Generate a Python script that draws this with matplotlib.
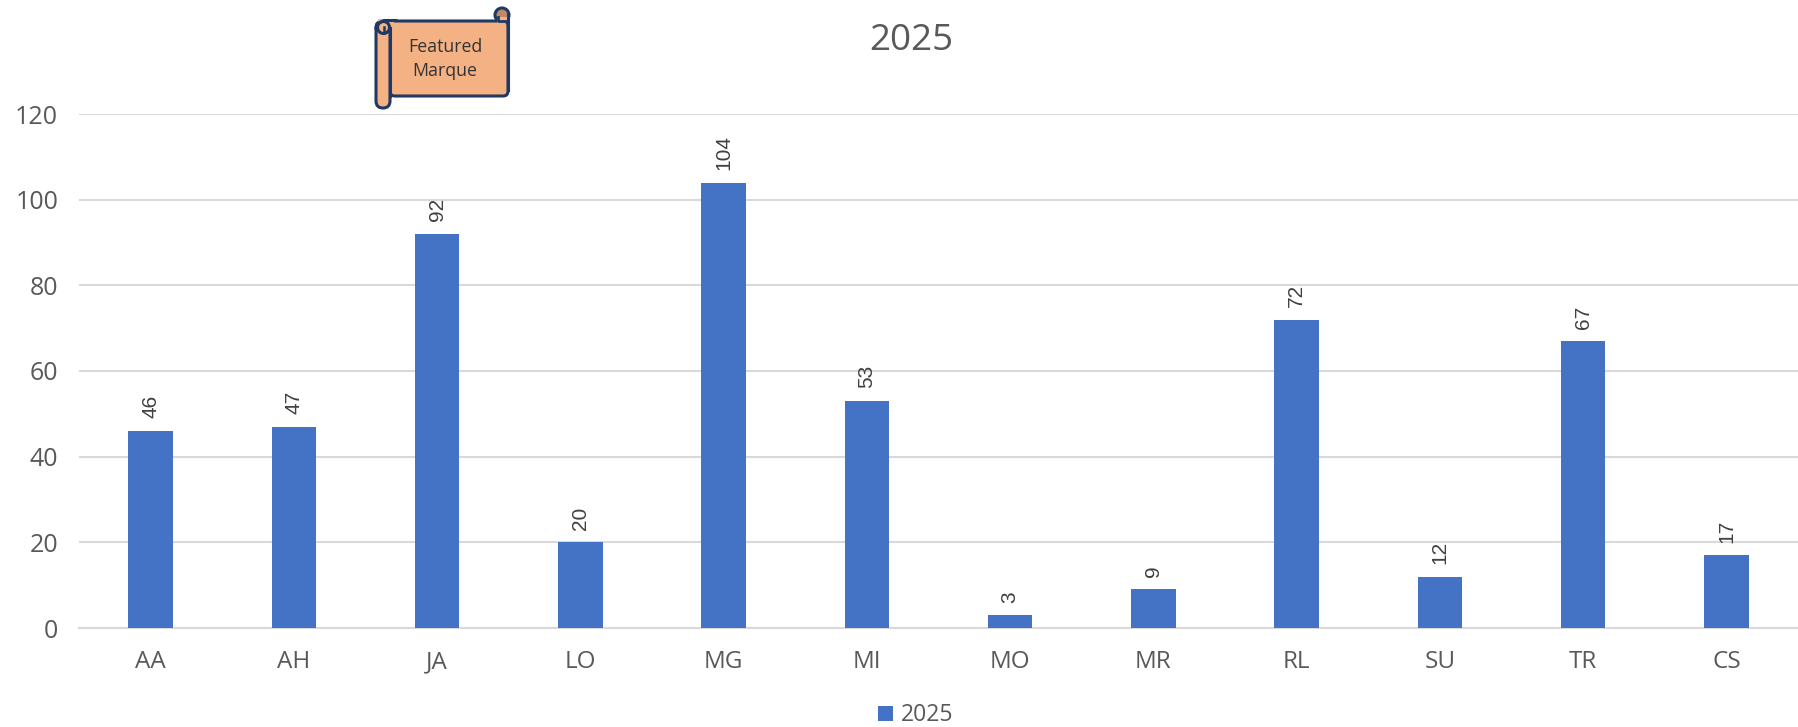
import matplotlib
matplotlib.use("Agg")
import matplotlib.pyplot as plt
from matplotlib.patches import FancyBboxPatch, Rectangle, Circle
from matplotlib.transforms import Affine2D

categories = ["AA", "AH", "JA", "LO", "MG", "MI", "MO", "MR", "RL", "SU", "TR", "CS"]
values_2025 = [46, 47, 92, 20, 104, 53, 3, 9, 72, 12, 67, 17]
y_ticks = [0, 20, 40, 60, 80, 100, 120]
series_name = "2025"
chart_title = "2025"
note_lines = ["Featured", "Marque"]

W, H = 1798, 727
BLUE = "#4472C4"
GREY = "#595959"
GRID = "#D9D9D9"
FONT = "Open Sans"

fig = plt.figure(figsize=(W / 100, H / 100), dpi=100, facecolor="white")
ax = fig.add_axes([79 / W, 1 - 628 / H, (W - 79) / W, (628 - 114) / H])

x = range(len(categories))
ax.bar(x, values_2025, width=0.312, color=BLUE, zorder=3, label=series_name)
ax.set_xlim(-0.5, len(categories) - 0.5)
ax.set_ylim(0, 120)
ax.set_yticks(y_ticks)
ax.set_xticks(list(x))
ax.set_xticklabels(categories, fontsize=17.5, color=GREY, family=FONT)
ax.tick_params(axis="both", length=0)
ax.tick_params(axis="x", pad=16)
ax.tick_params(axis="y", pad=15)
for t in ax.get_yticklabels():
    t.set_fontsize(18)
    t.set_color(GREY)
    t.set_family(FONT)
ax.yaxis.grid(True, color=GRID, lw=1.5, zorder=0)
ax.set_axisbelow(True)
for s in ["top", "right", "left"]:
    ax.spines[s].set_visible(False)
ax.spines["bottom"].set_color(GRID)
ax.spines["bottom"].set_linewidth(1.5)

for xi, v in zip(x, values_2025):
    ax.annotate(str(v), (xi, v), xytext=(0, 9), textcoords="offset points",
                rotation=90, ha="center", va="bottom", fontsize=15,
                color="#404040", family="Liberation Sans")

fig.text(911 / W, 1 - 41 / H, chart_title, fontsize=26.5, color=GREY, family=FONT,
         ha="center", va="center")

# legend
fig.add_artist(Rectangle((878 / W, 1 - 721 / H), 15 / W, 15 / H, transform=fig.transFigure,
                         facecolor=BLUE, edgecolor="none"))
fig.text(901 / W, 1 - 715 / H, series_name, fontsize=16.5, color=GREY, family=FONT,
         ha="left", va="center")

# scroll callout, placed in pixel coordinates of the figure
px = Affine2D().scale(1, -1).translate(0, H)
EDGE = "#1F3864"
FILL = "#F4B183"
DARK = "#C08A68"
kw = dict(transform=px, edgecolor=EDGE, linewidth=2.2, clip_on=False)
fig.add_artist(Circle((502, 15), 7, facecolor=DARK, **kw))
fig.add_artist(FancyBboxPatch((390, 21), 118, 75, boxstyle="round,pad=0,rounding_size=5",
                              facecolor=FILL, **kw))
fig.add_artist(Rectangle((497, 17), 10, 6, facecolor=FILL, edgecolor="none", transform=px))
fig.add_artist(plt.Line2D([508, 508], [15, 90], color=EDGE, lw=2.2, transform=px))
fig.add_artist(plt.Line2D([498, 498, 507], [17, 21, 21], color=EDGE, lw=2.0, transform=px))
fig.add_artist(FancyBboxPatch((376, 21), 14, 87, boxstyle="round,pad=0,rounding_size=7",
                              facecolor=FILL, **kw))
fig.add_artist(Rectangle((378, 19), 16, 12, facecolor=FILL, edgecolor="none", transform=px))
fig.add_artist(plt.Line2D([376, 377, 384, 396], [28, 24, 20.5, 20.5], color=EDGE, lw=2.2,
                          transform=px))
fig.add_artist(Circle((383.5, 27.5), 6, facecolor=FILL, **kw))
fig.add_artist(plt.Line2D([390, 390], [28, 96], color=EDGE, lw=2.2, transform=px))
fig.add_artist(plt.Line2D([384, 384], [27, 33], color=EDGE, lw=1.8, transform=px))
fig.text(445 / W, 1 - 47 / H, note_lines[0], fontsize=12.8, color="#333333",
         family=FONT, ha="center", va="center")
fig.text(445 / W, 1 - 71 / H, note_lines[1], fontsize=12.8, color="#333333",
         family=FONT, ha="center", va="center")

fig.savefig("out.png", dpi=100, facecolor="white")
